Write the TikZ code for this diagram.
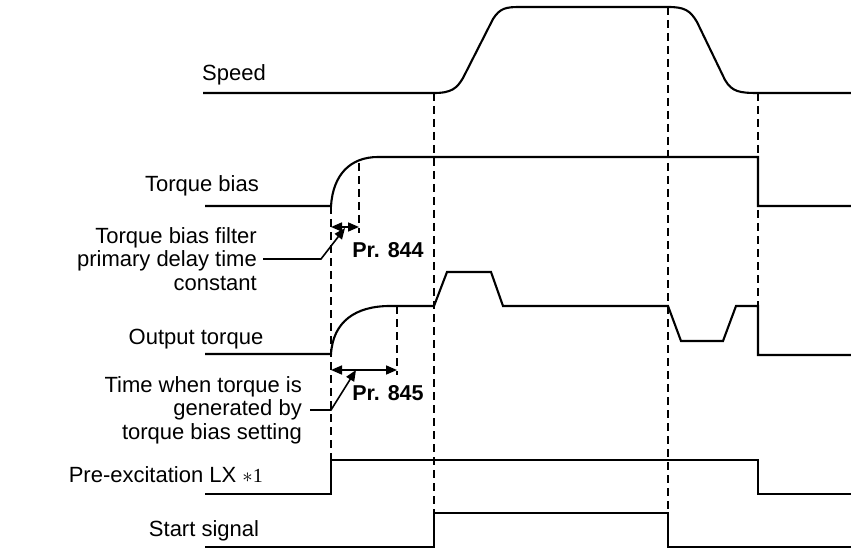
\documentclass[tikz,border=0pt]{standalone}
\usepackage{fontspec}
\setmainfont{Liberation Sans}
\newfontfamily\serifx{Liberation Serif}
\usetikzlibrary{arrows.meta}
\begin{document}
\begin{tikzpicture}[x=1pt,y=-1pt,
  sig/.style={line width=2.1pt, line join=miter},
  guide/.style={line width=2pt, dash pattern=on 8pt off 5pt},
  dimarrow/.style={line width=1.6pt, {Triangle[length=11pt,width=9pt]}-{Triangle[length=11pt,width=9pt]}},
  lead/.style={line width=1.6pt, -{Triangle[length=11pt,width=9pt]}},
  lbl/.style={font=\fontsize{22}{23.5}\selectfont, inner sep=0pt},
  pr/.style={font=\fontsize{21.5}{24}\selectfont\bfseries, inner sep=0pt}]
\useasboundingbox (0,0) rectangle (851,548);

% guides
\draw[guide] (331,206) -- (331,460);
\draw[guide] (359,163) -- (359,233);
\draw[guide] (397,306) -- (397,375);
\draw[guide] (434,93) -- (434,513);
\draw[guide] (668,7) -- (668,513);
\draw[guide] (758,93) -- (758,306);

% Speed
\draw[sig] (203,93) -- (434,93) .. controls (452,93) and (457,88) .. (463,78) -- (493,19) .. controls (500,8) and (506,7) .. (520,7) -- (668,7) .. controls (684,7) and (690,10) .. (697,22) -- (725,80) .. controls (732,92) and (740,93) .. (758,93) -- (851,93);
% Torque bias
\draw[sig] (205,206) -- (331,206) .. controls (333,175) and (350,157) .. (378,157) -- (758,157) -- (758,206) -- (851,206);
% Output torque
\draw[sig] (205,354) -- (331,354) .. controls (333,322) and (355,306) .. (390,306) -- (434,306) -- (447,272) -- (491,272) -- (503,306) -- (668,306) -- (681,341) -- (723,341) -- (736,306) -- (758,306) -- (758,355) -- (851,355);
% Pre-excitation
\draw[sig] (205,494) -- (331,494) -- (331,460) -- (758,460) -- (758,494) -- (851,494);
% Start signal
\draw[sig] (205,547) -- (434,547) -- (434,513) -- (668,513) -- (668,547) -- (851,547);

% labels
\node[lbl, anchor=west] (speed) at (202,75) {Speed};
\node[lbl] (tb) at (202,186) {Torque bias};
\node[lbl, align=right, anchor=east] (tbf) at (257,259) {Torque bias filter\\primary delay time\\constant};
\node[lbl] (ot) at (196,339) {Output torque};
\node[lbl, align=right, anchor=east] (tw) at (302,410) {Time when torque is\\generated by\\torque bias setting};
\node[lbl, anchor=east] (pre) at (263,475) {Pre-excitation LX {\normalfont\fontsize{20}{22}\selectfont$\ast$\serifx 1}};
\node[lbl] (start) at (204,531) {Start signal};
\node[pr] (p844) at (388,250) {Pr. 844};
\node[pr] (p845) at (388,393) {Pr. 845};

% dimension arrows
\coordinate (d1a) at (331,227);
\coordinate (d1b) at (359,227);
\coordinate (d2a) at (331,370);
\coordinate (d2b) at (397,370);
\draw[dimarrow] (d1a) -- (d1b);
\draw[dimarrow] (d2a) -- (d2b);

% leaders
\coordinate (k1) at (321,259);
\coordinate (t1) at (345,228);
\coordinate (k2) at (331,410);
\coordinate (t2) at (356,370);
\draw[lead] ([xshift=6pt]tbf.east) -- (k1) -- (t1);
\draw[lead] ([xshift=8pt]tw.east) -- (k2) -- (t2);
\end{tikzpicture}
\end{document}
